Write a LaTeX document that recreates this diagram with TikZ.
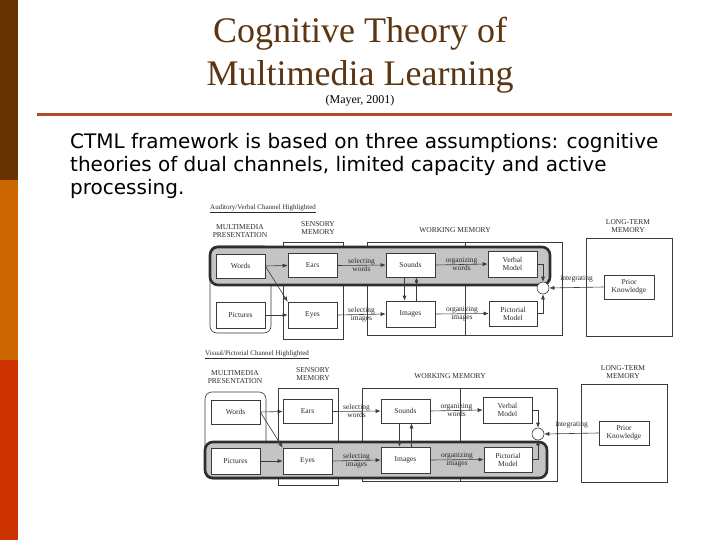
\documentclass[tikz,border=0pt]{standalone}
\usepackage{fontspec}
\setmainfont{Liberation Serif}
\newfontfamily\bodyfont{DejaVu Sans}
\usetikzlibrary{arrows.meta}
\definecolor{barbrown}{HTML}{663300}
\definecolor{barorange}{HTML}{CC6600}
\definecolor{barred}{HTML}{CC3300}
\definecolor{titlebrown}{HTML}{5C3512}
\definecolor{rulecol}{HTML}{B04E2C}
\definecolor{dline}{HTML}{3A3A3A}
\definecolor{dtext}{HTML}{2A2A2A}
\definecolor{bandfill}{HTML}{C4C4C4}
\definecolor{bandline}{HTML}{2E2E2E}
\tikzset{
  dfont/.style={font=\fontsize{7.5}{8}\selectfont, text=dtext},
  elbox/.style={draw=dline, fill=white, line width=0.6pt, minimum width=49pt,
    minimum height=24pt, inner sep=0pt, align=center, dfont},
  cont/.style={draw=dline, line width=0.6pt},
  lbl/.style={align=center, inner sep=0pt, dfont},
  arr/.style={draw=dline, line width=0.6pt, -{Latex[length=5pt,width=4pt]}},
  band/.style={draw=bandline, fill=bandfill, line width=2.6pt, rounded corners=8pt},
  bodyline/.style={anchor=base west, inner sep=0pt, font=\bodyfont\fontsize{20}{23}\selectfont},
}
\newcommand\ctmldia[5]{%
\begin{scope}[shift={(#2)}, name prefix=#1-]
  % headings
  \node[anchor=west, inner sep=0pt, dfont, font=\fontsize{7}{8}\selectfont] (hdr) at (210,209) {\underline{#5}};
  \node[lbl] (mmlab) at (240,231) {MULTIMEDIA\\PRESENTATION};
  \node[lbl] (smlab) at (318,228) {SENSORY\\MEMORY};
  \node[lbl] (wmlab) at (455,230) {WORKING MEMORY};
  \node[lbl] (ltlab) at (628,226) {LONG-TERM\\MEMORY};
  % containers
  \draw[cont, rounded corners=7pt] (210,246) rectangle (271,333);
  \draw[cont] (283,242) rectangle (343,339);
  \draw[cont] (367,242) rectangle (562,335);
  \draw[cont] (465,242) -- (465,335);
  \draw[cont] (586,238) rectangle (672,336);
  % highlighted channel
  \draw[band] (#3) rectangle (#4);
  % elements
  \node[elbox] (words) at (240.5,266) {Words};
  \node[elbox] (ears) at (312.5,265.5) {Ears};
  \node[elbox] (sounds) at (410.5,265) {Sounds};
  \node[elbox, minimum height=26pt] (verbal) at (512.5,264) {Verbal\\Model};
  \node[elbox, minimum height=26pt] (pictures) at (240.5,315) {Pictures};
  \node[elbox, minimum height=26pt] (eyes) at (312.5,315) {Eyes};
  \node[elbox, minimum height=26pt] (images) at (410.5,314) {Images};
  \node[elbox, minimum width=48pt, minimum height=25pt] (pictorial) at (513,313.5) {Pictorial\\Model};
  \node[elbox, minimum width=50pt] (prior) at (629,287) {Prior\\Knowledge};
  \node[draw=dline, fill=white, line width=0.6pt, circle, minimum size=12pt, inner sep=0pt] (circ) at (543,288) {};
  % connectors
  \draw[arr] (words.east) -- (ears.west);
  \draw[arr] (words.east) -- (eyes.north west);
  \draw[arr] (pictures.east) -- (eyes.west);
  \draw[arr] (ears.east) -- node[lbl] (sw) {selecting\\words} (sounds.west);
  \draw[arr] (eyes.east) -- node[lbl] (si) {selecting\\images} (images.west);
  \draw[arr] (sounds.east) -- node[lbl] (ow) {organizing\\words} (verbal.west);
  \draw[arr] (images.east) -- node[lbl] (oi) {organizing\\images} (pictorial.west);
  \draw[arr] ([xshift=-6pt]sounds.south) -- ([xshift=-6pt]images.north);
  \draw[arr] ([xshift=6pt]images.north) -- ([xshift=6pt]sounds.south);
  \draw[arr] (verbal.east) -| (circ.north);
  \draw[arr] (pictorial.east) -| (circ.south);
  \draw[arr] (prior.west) -- node[lbl, above=5pt] (integ) {integrating} (circ.east);
\end{scope}}
\begin{document}
\begin{tikzpicture}[x=1pt, y=-1pt]
  \path[use as bounding box, fill=white] (0,0) rectangle (720,540);
  % left bar
  \fill[barbrown] (0,0) rectangle (18,180);
  \fill[barorange] (0,180) rectangle (18,360);
  \fill[barred] (0,360) rectangle (18,540);
  % title
  \node[text=titlebrown, font=\fontsize{36}{43}\selectfont, align=center, inner sep=0pt] (title) at (360,55) {Cognitive Theory of\\Multimedia Learning};
  \node[font=\fontsize{12}{14}\selectfont, inner sep=0pt] (cite) at (360,101) {(Mayer, 2001)};
  \draw[rulecol, line width=3pt] (37,115) -- (672,115);
  % body text
  \node[bodyline] (l1) at (70,149) {CTML framework is based on three assumptions: cognitive};
  \node[bodyline] (l2) at (70,172) {theories of dual channels, limited capacity and active};
  \node[bodyline] (l3) at (70,195) {processing.};
  % diagrams
  \ctmldia{a}{0,0}{210,247}{550,285}{Auditory/Verbal Channel Highlighted}
  \ctmldia{b}{-5,146}{210,296}{552,332}{Visual/Pictorial Channel Highlighted}
\end{tikzpicture}
\end{document}
